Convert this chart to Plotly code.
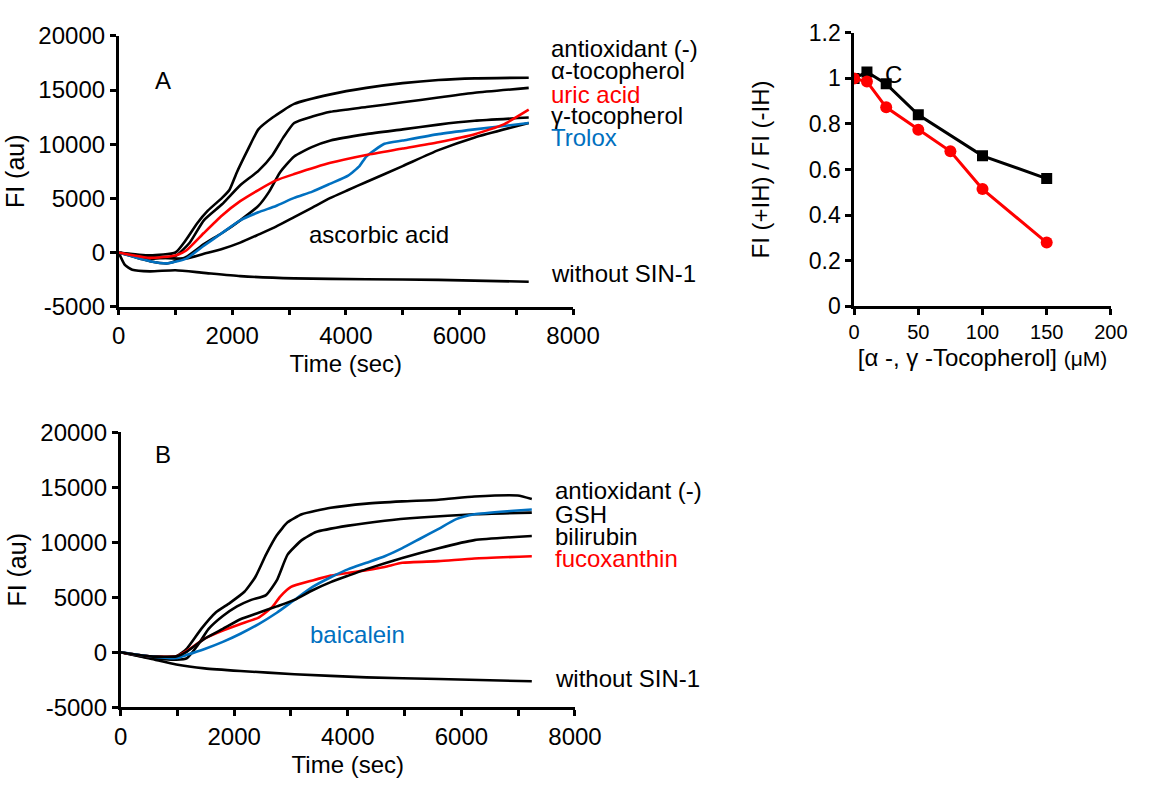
import plotly.graph_objects as go

W, H = 1168, 789
FONT = "Arial, Liberation Sans, sans-serif"
RED = "#ff0000"
BLUE = "#0070c0"
BLACK = "#000000"

# ---------------- tick labels ----------------
fi_ticks = [-5000, 0, 5000, 10000, 15000, 20000]
fi_ticktext = ["-5000", "0", "5000", "10000", "15000", "20000"]
time_ticks = [0, 2000, 4000, 6000, 8000]
time_ticktext = ["0", "2000", "4000", "6000", "8000"]
ratio_ticks = [0, 0.2, 0.4, 0.6, 0.8, 1.0, 1.2]
ratio_ticktext = ["0", "0.2", "0.4", "0.6", "0.8", "1", "1.2"]
conc_ticks = [0, 50, 100, 150, 200]
conc_ticktext = ["0", "50", "100", "150", "200"]

# ---------------- Panel A ----------------
a_neg_t = [0, 550, 1000, 1190, 1380, 1570, 1820, 1950, 2080, 2270, 2460, 2710, 3090, 3730, 4360, 5000, 5630, 6270, 7220]
a_neg_v = [0, -270, 0, 1200, 2680, 3860, 5040, 5770, 7390, 9450, 11370, 12460, 13720, 14600, 15200, 15640, 15930, 16080, 16140]

a_atoc_t = [0, 550, 1000, 1250, 1500, 1820, 2140, 2460, 2710, 2900, 3090, 3410, 3730, 4360, 5000, 5630, 6270, 7220]
a_atoc_v = [0, -560, -320, 900, 2970, 4450, 6210, 7540, 9010, 10630, 11960, 12550, 12990, 13430, 13870, 14310, 14750, 15200]

a_gtoc_t = [0, 550, 870, 1190, 1500, 1820, 2140, 2460, 2650, 2840, 3090, 3410, 3730, 4360, 5000, 5630, 6270, 7220]
a_gtoc_v = [0, -800, -1000, -410, 770, 1800, 2970, 4300, 5620, 7390, 8860, 9750, 10340, 10930, 11370, 11810, 12160, 12460]

a_uric_t = [0, 550, 1000, 1190, 1500, 1820, 2140, 2460, 2770, 3090, 3730, 4360, 5000, 5630, 6270, 6770, 7220]
a_uric_v = [0, -500, -270, 180, 1800, 3420, 4740, 5770, 6660, 7240, 8280, 9010, 9600, 10190, 10930, 11810, 13190]

a_trolox_t = [0, 550, 870, 1190, 1500, 1820, 2140, 2460, 2770, 3090, 3410, 3730, 4040, 4240, 4360, 4680, 5000, 5630, 6270, 7220]
a_trolox_v = [0, -800, -1000, -560, 620, 1800, 2970, 3710, 4300, 5040, 5620, 6360, 7100, 7980, 8860, 10040, 10340, 10930, 11370, 11960]

a_asc_t = [0, 550, 1190, 1500, 1820, 2140, 2460, 2770, 3090, 3410, 3730, 4040, 4360, 5000, 5630, 6270, 7220]
a_asc_v = [0, -410, -560, -120, 320, 910, 1650, 2390, 3270, 4150, 5040, 5770, 6510, 7980, 9450, 10630, 11960]

a_nosin_t = [0, 110, 240, 550, 1000, 1500, 2140, 3090, 4360, 5630, 7220]
a_nosin_v = [0, -1150, -1590, -1740, -1640, -1880, -2180, -2390, -2470, -2530, -2700]

# ---------------- Panel B ----------------
b_neg_t = [0, 530, 980, 1170, 1420, 1670, 1920, 2180, 2370, 2560, 2750, 2940, 3190, 3700, 4330, 4960, 5600, 6230, 6990, 7240]
b_neg_v = [0, -380, -380, 350, 2120, 3590, 4470, 5500, 6820, 8880, 10640, 11820, 12550, 13140, 13520, 13730, 13880, 14170, 14260, 13940]

b_gsh_t = [0, 530, 980, 1170, 1360, 1550, 1800, 2050, 2300, 2560, 2750, 2940, 3190, 3440, 4010, 4650, 5280, 6230, 7240]
b_gsh_v = [0, -530, -680, -530, 650, 2120, 3290, 4170, 4760, 5200, 6530, 8880, 10200, 10940, 11520, 11970, 12260, 12550, 12700]

b_bili_t = [0, 530, 980, 1170, 1480, 1800, 2110, 2430, 2750, 3060, 3380, 3700, 4010, 4330, 4960, 5600, 6230, 7240]
b_bili_v = [0, -380, -380, 60, 1230, 2120, 3000, 3590, 4170, 4760, 5640, 6380, 6970, 7560, 8580, 9470, 10200, 10580]

b_fuco_t = [0, 530, 980, 1170, 1480, 1800, 2110, 2430, 2680, 2810, 3000, 3380, 3700, 4330, 4650, 4960, 5600, 6230, 7240]
b_fuco_v = [0, -380, -380, 120, 1230, 1970, 2560, 3150, 4170, 5060, 5940, 6530, 6970, 7470, 7760, 8140, 8290, 8530, 8730]

b_baic_t = [0, 530, 980, 1170, 1480, 1800, 2110, 2430, 2750, 3060, 3380, 3700, 4010, 4330, 4650, 4960, 5280, 5600, 5910, 6230, 6860, 7240]
b_baic_v = [0, -380, -530, -240, 290, 940, 1680, 2560, 3590, 4760, 5940, 6820, 7560, 8140, 8730, 9470, 10350, 11230, 12110, 12550, 12850, 12990]

b_nosin_t = [0, 530, 980, 1480, 2110, 3060, 4330, 5600, 7240]
b_nosin_v = [0, -590, -1120, -1470, -1710, -2000, -2290, -2440, -2650]

# ---------------- Panel C ----------------
c_alpha_x = [0, 10, 25, 50, 100, 150]
c_alpha_y = [1.0, 1.028, 0.976, 0.84, 0.66, 0.56]
c_gamma_x = [0, 10, 25, 50, 75, 100, 150]
c_gamma_y = [1.0, 0.986, 0.873, 0.775, 0.68, 0.514, 0.279]

fig = go.Figure()

def add_line(t, v, color, xa, ya, name):
    fig.add_trace(go.Scatter(x=t, y=v, mode="lines", name=name,
                             line=dict(color=color, width=2.6, shape="spline", smoothing=0.5),
                             xaxis=xa, yaxis=ya, showlegend=False, hoverinfo="skip"))

add_line(a_asc_t, a_asc_v, BLACK, "x", "y", "ascorbic acid")
add_line(a_nosin_t, a_nosin_v, BLACK, "x", "y", "without SIN-1")
add_line(a_gtoc_t, a_gtoc_v, BLACK, "x", "y", "γ-tocopherol")
add_line(a_atoc_t, a_atoc_v, BLACK, "x", "y", "α-tocopherol")
add_line(a_neg_t, a_neg_v, BLACK, "x", "y", "antioxidant (-)")
add_line(a_trolox_t, a_trolox_v, BLUE, "x", "y", "Trolox")
add_line(a_uric_t, a_uric_v, RED, "x", "y", "uric acid")

add_line(b_nosin_t, b_nosin_v, BLACK, "x2", "y2", "without SIN-1")
add_line(b_neg_t, b_neg_v, BLACK, "x2", "y2", "antioxidant (-)")
add_line(b_gsh_t, b_gsh_v, BLACK, "x2", "y2", "GSH")
add_line(b_fuco_t, b_fuco_v, RED, "x2", "y2", "fucoxanthin")
add_line(b_baic_t, b_baic_v, BLUE, "x2", "y2", "baicalein")
add_line(b_bili_t, b_bili_v, BLACK, "x2", "y2", "bilirubin")

fig.add_trace(go.Scatter(x=c_alpha_x, y=c_alpha_y, mode="lines+markers", xaxis="x3", yaxis="y3",
                         line=dict(color=BLACK, width=3), marker=dict(symbol="square", size=11, color=BLACK),
                         showlegend=False, name="α-tocopherol"))
fig.add_trace(go.Scatter(x=c_gamma_x, y=c_gamma_y, mode="lines+markers", xaxis="x3", yaxis="y3",
                         line=dict(color=RED, width=3), marker=dict(symbol="circle", size=12, color=RED),
                         showlegend=False, name="γ-tocopherol"))

def px_x(p):
    return p / W

def px_y(p):
    return 1 - p / H

axis_common = dict(showline=True, linecolor=BLACK, linewidth=2.5, ticks="outside", ticklen=6,
                   tickwidth=2.5, tickcolor=BLACK, showgrid=False, zeroline=False,
                   tickmode="array",
                   tickfont=dict(family=FONT, size=24, color=BLACK),
                   title_font=dict(family=FONT, size=24, color=BLACK))
minor_x = dict(dtick=1000, ticks="outside", ticklen=6, tickwidth=2.5, tickcolor=BLACK)
fi_title_font = dict(family=FONT, size=25, color=BLACK)

fig.update_layout(
    width=W, height=H, margin=dict(l=0, r=0, t=0, b=0),
    paper_bgcolor="white", plot_bgcolor="white",
    font=dict(family=FONT, color=BLACK),
    xaxis=dict(domain=[px_x(115), px_x(583)], range=[0, 8000], tickvals=time_ticks, ticktext=time_ticktext,
               anchor="y", minor=minor_x,
               title=dict(text="Time (sec)", standoff=8), **axis_common),
    yaxis=dict(domain=[px_y(303), px_y(22.7)], range=[-5000, 20000], tickvals=fi_ticks, ticktext=fi_ticktext,
               anchor="x", **{**axis_common, "title_font": fi_title_font},
               title=dict(text="FI (au)", standoff=7)),
    xaxis2=dict(domain=[px_x(117), px_x(585)], range=[0, 8000], tickvals=time_ticks, ticktext=time_ticktext,
                anchor="y2", minor=minor_x,
                title=dict(text="Time (sec)", standoff=8), **axis_common),
    yaxis2=dict(domain=[px_y(717.7), px_y(433.3)], range=[-5000, 20000], tickvals=fi_ticks, ticktext=fi_ticktext,
                anchor="x2", **{**axis_common, "title_font": fi_title_font},
                title=dict(text="FI (au)", standoff=7)),
    xaxis3=dict(domain=[px_x(872.5), px_x(1137)], range=[0, 200], tickvals=conc_ticks, ticktext=conc_ticktext,
                anchor="y3",
                title=dict(text="[α -, γ -Tocopherol] <span style='font-size:21px'>(μM)</span>", standoff=8),
                **{**axis_common, "tickfont": dict(family=FONT, size=20, color=BLACK)}),
    yaxis3=dict(domain=[px_y(302.5), px_y(19.5)], range=[0, 1.2], tickvals=ratio_ticks, ticktext=ratio_ticktext,
                anchor="x3", **{**axis_common, "tickfont": dict(family=FONT, size=23, color=BLACK)},
                title=dict(text="FI (+IH) / FI (-IH)", standoff=33)),
)

def label(xp, yp, text, color=BLACK, size=24):
    fig.add_annotation(x=px_x(xp), y=px_y(yp), xref="paper", yref="paper", text=text,
                       showarrow=False, xanchor="left", yanchor="middle", borderpad=0,
                       font=dict(family=FONT, size=size, color=color))

# panel letters
for xp, yp, letter in [(150, 53, "A"), (150, 456, "B"), (924, 46.5, "C")]:
    fig.add_annotation(x=px_x(xp), y=px_y(yp), xref="paper", yref="paper", text=letter, showarrow=False,
                       font=dict(family=FONT, size=24, color=BLACK))

# panel A labels
label(559, 36, "antioxidant (-)")
label(559, 59, "α-tocopherol")
label(559, 83, "uric acid", RED)
label(559, 105, "γ-tocopherol")
label(559, 128, "Trolox", BLUE)
label(310, 228, "ascorbic acid")
label(559, 269, "without SIN-1")

# panel B labels
label(563, 493, "antioxidant (-)")
label(563, 518, "GSH")
label(563, 541, "bilirubin")
label(563, 564, "fucoxanthin", RED)
label(311, 642, "baicalein", BLUE)
label(563, 688, "without SIN-1")

fig.write_html("out.html", config={"displayModeBar": False},
               post_script="document.body.style.margin='0';document.body.style.overflow='hidden';")
